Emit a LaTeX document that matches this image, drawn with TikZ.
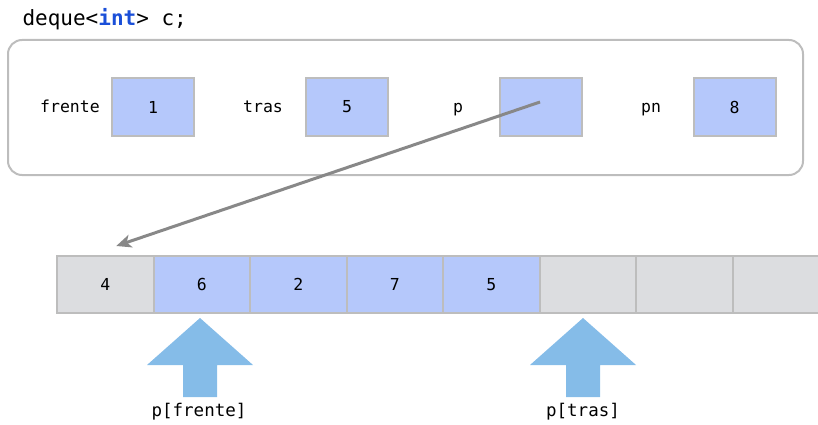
\documentclass[tikz,border=0pt]{standalone}
\usepackage{fontspec}
\setmonofont{DejaVu Sans Mono}
\usetikzlibrary{arrows.meta,positioning}
\definecolor{slotblue}{HTML}{B5C8FB}
\definecolor{slotgray}{HTML}{DCDDE0}
\definecolor{edgegray}{HTML}{BDBDBD}
\definecolor{linkgray}{HTML}{888888}
\definecolor{markblue}{HTML}{85BCE8}
\definecolor{kwblue}{HTML}{1A4FD8}

\begin{document}
\begin{tikzpicture}[x=1pt,y=-1pt,
  every node/.style={font=\fontsize{16.5}{19}\ttfamily},
  var/.style={draw=edgegray,line width=2pt,fill=slotblue,minimum width=82pt,minimum height=58pt},
  cell/.style={draw=edgegray,line width=2pt,outer sep=0pt,minimum width=96.5pt,minimum height=57pt},
  frame/.style={draw=edgegray,line width=2pt,rounded corners=14pt,minimum width=795pt,minimum height=135pt},
  link/.style={-{Stealth[length=15pt,width=13pt,inset=4pt]},linkgray,line width=3pt},
  idxarrow/.style={fill=markblue},
]
  \useasboundingbox (0,0) rectangle (818,425);

  \node[anchor=west,font=\fontsize{21}{24}\ttfamily] (decl) at (19,19) {deque<\textcolor{kwblue}{\textbf{int}}> c;};
  \node[frame] (cbox) at (405.5,107.5) {};

  % members of c
  \node[anchor=base] (lfrente) at (70,113) {frente};
  \node[var] (vfrente) at (153,107) {1};
  \node[anchor=base] (ltras) at (263,113) {tras};
  \node[var] (vtras) at (347,107) {5};
  \node[anchor=base] (lp) at (458,113) {p};
  \node[var] (vp) at (541,107) {};
  \node[anchor=base] (lpn) at (651,113) {pn};
  \node[var] (vpn) at (734.5,107) {8};

  % the array behind p
  \node[cell,fill=slotgray] (c0) at (105.25,284.5) {4};
  \node[cell,fill=slotblue,right=0pt of c0] (c1) {6};
  \node[cell,fill=slotblue,right=0pt of c1] (c2) {2};
  \node[cell,fill=slotblue,right=0pt of c2] (c3) {7};
  \node[cell,fill=slotblue,right=0pt of c3] (c4) {5};
  \node[cell,fill=slotgray,right=0pt of c4] (c5) {};
  \node[cell,fill=slotgray,right=0pt of c5] (c6) {};
  \node[cell,fill=slotgray,right=0pt of c6] (c7) {};

  \draw[link] ([xshift=-1pt,yshift=5pt]vp.center) -- ([xshift=11pt,yshift=10pt]c0.north);

  % index markers
  \fill[idxarrow] (200,318) -- ++(53,47) -- ++(-36,0) -- ++(0,32) -- ++(-34,0) -- ++(0,-32) -- ++(-36,0) -- cycle;
  \fill[idxarrow] (583,318) -- ++(53,47) -- ++(-36,0) -- ++(0,32) -- ++(-34,0) -- ++(0,-32) -- ++(-36,0) -- cycle;
  \node[anchor=base,font=\fontsize{17.5}{20}\ttfamily] (pfrente) at (199,416) {p[frente]};
  \node[anchor=base,font=\fontsize{17.5}{20}\ttfamily] (ptras) at (583,416) {p[tras]};
\end{tikzpicture}
\end{document}
